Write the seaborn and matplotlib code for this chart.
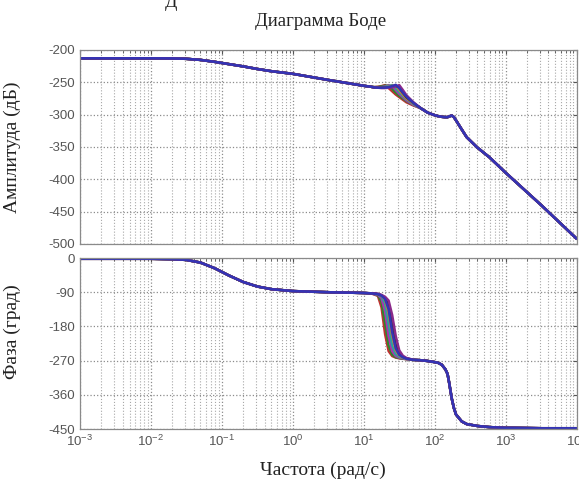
import numpy as np
import pandas as pd
import matplotlib
matplotlib.use("Agg")
import matplotlib.pyplot as plt
import seaborn as sns

# log10 of frequency (rad/s)
logw_low = [-3.0, -2.5, -2.0, -1.7, -1.5, -1.3, -1.1, -0.9, -0.7, -0.5, -0.3, 0.0, 0.5, 1.0, 1.1]
logw_mid = [1.15, 1.2, 1.25, 1.3, 1.35, 1.4, 1.45, 1.5, 1.55, 1.6, 1.7]
logw_high = [1.8, 1.9, 2.0, 2.05, 2.1, 2.15, 2.18, 2.2, 2.24, 2.27, 2.3, 2.38, 2.45, 2.6, 2.77, 3.0, 3.1, 3.5, 4.0]

mag_low = [-213, -213, -213, -213.2, -213.8, -215.5, -218.5, -222, -225.5, -229.5, -233, -237, -246.5, -255.5, -257]
mag_high = [-290, -297, -301, -302.5, -303.5, -304, -304, -303, -301.5, -304, -309, -323, -335, -351, -366, -390, -400, -440, -492]

phase_low = [-2, -2, -2, -3, -5, -12, -27, -46, -63, -75, -82, -87, -90, -92, -93]
phase_high = [-269, -271, -274, -276, -281, -293, -305, -325, -370, -395, -412, -430, -437, -442, -445, -447, -447, -448, -448]

# one row per simulated curve, resonance region only
mag_mid = [
    [-257.5, -257, -256, -254.5, -259, -264, -269, -273, -277, -281, -286],
    [-257.5, -257.5, -256.5, -255.5, -255, -260, -266, -271, -275, -279, -285],
    [-258, -258, -257.5, -256.5, -255, -256, -262, -268, -273, -278, -285],
    [-258, -258, -258, -257, -256, -254.5, -259, -265, -271, -276, -284],
    [-258, -258.5, -258.5, -258, -257, -255.5, -255, -262, -269, -275, -283],
    [-258, -258.5, -258.5, -258.5, -258, -257, -255.5, -258, -266, -273, -282],
    [-258, -258.5, -259, -259, -258.5, -258, -256.5, -254.5, -262, -270, -281],
    [-258, -258.5, -258.5, -258.5, -257.5, -256, -254, -259, -266, -272, -282],
]
phase_mid = [
    [-96, -100, -130, -200, -245, -258, -262, -264, -265, -266, -268],
    [-95, -98, -115, -170, -230, -254, -261, -263, -265, -266, -268],
    [-95, -97, -106, -140, -205, -245, -258, -262, -264, -266, -268],
    [-94, -96, -101, -120, -175, -230, -253, -260, -263, -265, -268],
    [-94, -95, -99, -110, -145, -205, -243, -257, -262, -265, -268],
    [-93, -95, -98, -105, -125, -175, -228, -252, -260, -264, -268],
    [-93, -94, -97, -102, -112, -150, -205, -243, -257, -263, -268],
    [-94, -95, -99, -108, -135, -195, -238, -255, -261, -265, -268],
]
curve_colors = ["#c03030", "#2a8a2a", "#b030b0", "#2aa0a0", "#c08040", "#303030", "#8a2a8a", "#3434b4"]

y_mag_ticks = [-500, -450, -400, -350, -300, -250, -200]
y_phase_ticks = [-450, -360, -270, -180, -90, 0]

rows = []
for i in range(len(mag_mid)):
    lw = logw_low + logw_mid + logw_high
    mg = mag_low + mag_mid[i] + mag_high
    ph = phase_low + phase_mid[i] + phase_high
    for a, b, c in zip(lw, mg, ph):
        rows.append({"freq": 10 ** a, "mag": b, "phase": c, "curve": i})
df = pd.DataFrame(rows)

sns.set_style("white")
plt.rcParams["font.family"] = ["Liberation Sans", "DejaVu Sans"]
plt.rcParams["axes.unicode_minus"] = False

fig = plt.figure(figsize=(5.79, 4.83), dpi=100)
ax1 = fig.add_axes([0.138, 0.495, 0.858, 0.4017])
ax2 = fig.add_axes([0.138, 0.1118, 0.858, 0.354])

for ax, col in [(ax1, "mag"), (ax2, "phase")]:
    sns.lineplot(data=df, x="freq", y=col, hue="curve", palette=curve_colors,
                 estimator=None, sort=False, legend=False, linewidth=1.8, ax=ax)
    ax.set_xscale("log")
    ax.set_xlim(1e-3, 1e4)
    ax.grid(True, which="major", linestyle=":", color="#8c8c8c", linewidth=0.9)
    ax.grid(True, which="minor", axis="x", linestyle=":", color="#a8a8a8", linewidth=0.8)
    ax.tick_params(which="both", direction="in", top=True, right=True,
                   colors="#555555", labelsize=9.5, length=3)
    ax.tick_params(which="minor", length=2)
    for s in ax.spines.values():
        s.set_color("#8a8a8a")
        s.set_linewidth(0.9)
    ax.set_xlabel("")

ax1.set_ylim(-500, -200)
ax1.set_yticks(y_mag_ticks)
ax1.set_xticklabels([])
ax1.tick_params(which="both", labelbottom=False)
ax2.set_ylim(-450, 0)
ax2.set_yticks(y_phase_ticks)
ax2.set_xticks([1e-3, 1e-2, 1e-1, 1e0, 1e1, 1e2, 1e3, 1e4])

serif = ["Liberation Serif", "DejaVu Serif"]
ax1.set_ylabel("Амплитуда (дБ)", family=serif, fontsize=14, color="#222222")
ax2.set_ylabel("Фаза (град)", family=serif, fontsize=14, color="#222222")
ax1.yaxis.set_label_coords(-0.118, 0.5)
ax2.yaxis.set_label_coords(-0.118, 0.57)
ax2.set_xlabel("Частота (рад/с)", family=serif, fontsize=14, color="#222222")
ax2.xaxis.set_label_coords(0.49, -0.19)
fig.text(0.553, 0.955, "Диаграмма Боде", family=serif, fontsize=13.5, ha="center", va="center", color="#222222")
fig.text(0.295, 0.995, "Д", family=serif, fontsize=13, ha="center", va="center", color="#222222")

fig.savefig("out.png", dpi=100)
